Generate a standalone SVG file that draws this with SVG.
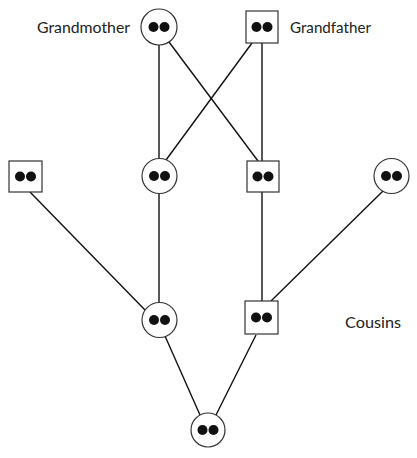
<svg xmlns="http://www.w3.org/2000/svg" width="417" height="458" viewBox="0 0 417 458">
<style>
.c{fill:#fff;stroke:#333;stroke-width:1.2}
.d{fill:#111}
.l{stroke:#111;stroke-width:1.4;fill:none}
text{font-family:Lato,"Open Sans","Liberation Sans",sans-serif;font-size:15px;fill:#222}
</style>
<defs>
<g id="dots"><circle class="d" cx="-5.5" cy="0" r="5"/><circle class="d" cx="5.5" cy="0" r="5"/></g>
</defs>
<rect width="417" height="458" fill="#fff"/>
<g id="connectors">
<line class="l" x1="159" y1="45" x2="159" y2="159"/>
<line class="l" x1="169" y1="42" x2="258" y2="161"/>
<line class="l" x1="262" y1="43" x2="262" y2="161"/>
<line class="l" x1="252" y1="43" x2="166" y2="160"/>
<line class="l" x1="30" y1="192" x2="145" y2="310"/>
<line class="l" x1="159" y1="193" x2="159" y2="303"/>
<line class="l" x1="262" y1="192" x2="262" y2="301"/>
<line class="l" x1="383" y1="191" x2="271" y2="301"/>
<line class="l" x1="165" y1="336" x2="200" y2="415"/>
<line class="l" x1="256" y1="335" x2="216" y2="415"/>
</g>
<g id="grandmother"><circle class="c" cx="159" cy="27" r="18"/><use href="#dots" x="159" y="27"/></g>
<g id="grandfather"><rect class="c" x="246" y="11" width="32" height="32"/><use href="#dots" x="262" y="27"/></g>
<g id="n-left"><rect class="c" x="9" y="161" width="33" height="31"/><use href="#dots" x="25.5" y="176.5"/></g>
<g id="n-mid-circle"><circle class="c" cx="159.5" cy="176" r="17.5"/><use href="#dots" x="159.5" y="176"/></g>
<g id="n-mid-square"><rect class="c" x="247" y="161" width="32" height="31"/><use href="#dots" x="263" y="176.5"/></g>
<g id="n-right"><circle class="c" cx="391.5" cy="176" r="17.5"/><use href="#dots" x="391.5" y="176"/></g>
<g id="cousin-circle"><circle class="c" cx="159.5" cy="320" r="17.5"/><use href="#dots" x="159.5" y="320"/></g>
<g id="cousin-square"><rect class="c" x="245" y="301" width="33" height="33"/><use href="#dots" x="261.5" y="317.5"/></g>
<g id="child"><circle class="c" cx="208" cy="430" r="17"/><use href="#dots" x="208" y="430"/></g>
<text x="37" y="33" textLength="93" lengthAdjust="spacingAndGlyphs">Grandmother</text>
<text x="290" y="33" textLength="81" lengthAdjust="spacingAndGlyphs">Grandfather</text>
<text x="345" y="328" textLength="56" lengthAdjust="spacingAndGlyphs">Cousins</text>
</svg>
